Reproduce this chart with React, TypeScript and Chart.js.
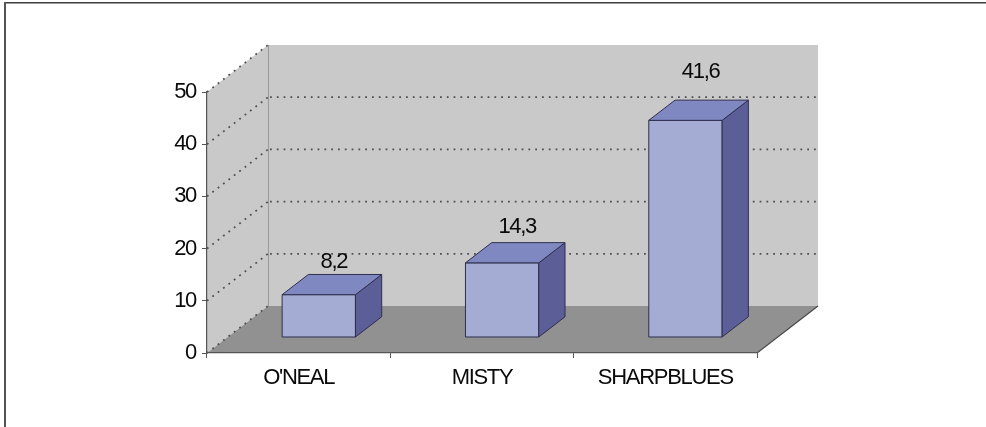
import React, { useEffect, useRef } from "react";
import { Chart, registerables } from "chart.js";

Chart.register(...registerables);

// Chart data
const categories: string[] = ["O'NEAL", "MISTY", "SHARPBLUES"];
const values: number[] = [8.2, 14.3, 41.6];
const yTicks: number[] = [0, 10, 20, 30, 40, 50];

const FONT = "'Liberation Sans', Arial, sans-serif";
const FONT_SIZE = 22;
const LETTER_SPACING = "-1.3px";

// Depth of the 3D box (pixel offset from the front plane to the back wall)
const DEPTH_X = 61;
const DEPTH_Y = -47;
// Bars sit between these depth fractions
const BAR_FRONT = 0.33;
const BAR_BACK = 0.76;

const WALL = "#c9c9c9";
const FLOOR = "#919191";
const GRID = "#505050";
const AXIS = "#555555";
const TEXT = "#0a0a0a";
const BAR_FRONT_COLOR = "#a4acd4";
const BAR_TOP_COLOR = "#8088c2";
const BAR_SIDE_COLOR = "#5c5f97";
const BAR_EDGE = "#2e2f4e";

const fmt = (v: number) => v.toFixed(1).replace(".", ",");

const threeD = {
  id: "threeD",
  beforeDraw(chart: any) {
    const { ctx, chartArea } = chart;
    const ys = chart.scales.y;
    const { left, right, bottom } = chartArea;
    const top = ys.getPixelForValue(yTicks[yTicks.length - 1]);

    // tight text spacing for all labels drawn afterwards
    (ctx as any).letterSpacing = LETTER_SPACING;

    ctx.save();
    // frame around the picture
    ctx.fillStyle = "#3c3c3c";
    ctx.fillRect(4, 2, chart.width - 4, 1.5);
    ctx.fillStyle = "#555555";
    ctx.fillRect(4, 2, 2, chart.height - 2);

    // side wall
    ctx.fillStyle = WALL;
    ctx.beginPath();
    ctx.moveTo(left, bottom);
    ctx.lineTo(left, top);
    ctx.lineTo(left + DEPTH_X, top + DEPTH_Y);
    ctx.lineTo(left + DEPTH_X, bottom + DEPTH_Y);
    ctx.closePath();
    ctx.fill();

    // back wall
    ctx.fillRect(left + DEPTH_X, top + DEPTH_Y, right - left, bottom - top);
    ctx.strokeStyle = "#9a9a9a";
    ctx.lineWidth = 1;
    ctx.beginPath();
    ctx.moveTo(left + DEPTH_X + 0.5, top + DEPTH_Y);
    ctx.lineTo(left + DEPTH_X + 0.5, bottom + DEPTH_Y);
    ctx.stroke();

    // floor
    ctx.fillStyle = FLOOR;
    ctx.beginPath();
    ctx.moveTo(left, bottom);
    ctx.lineTo(right, bottom);
    ctx.lineTo(right + DEPTH_X, bottom + DEPTH_Y);
    ctx.lineTo(left + DEPTH_X, bottom + DEPTH_Y);
    ctx.closePath();
    ctx.fill();
    ctx.strokeStyle = "#4a4a4a";
    ctx.lineWidth = 1.2;
    ctx.beginPath();
    ctx.moveTo(right, bottom);
    ctx.lineTo(right + DEPTH_X, bottom + DEPTH_Y);
    ctx.stroke();

    // dotted gridlines: side wall diagonals and back wall horizontals
    ctx.strokeStyle = GRID;
    ctx.lineWidth = 1.8;
    ctx.setLineDash([1.8, 5]);
    yTicks.forEach((v) => {
      const py = ys.getPixelForValue(v);
      ctx.beginPath();
      ctx.moveTo(left, py);
      ctx.lineTo(left + DEPTH_X, py + DEPTH_Y);
      ctx.stroke();
      if (v > yTicks[0] && v < yTicks[yTicks.length - 1]) {
        ctx.beginPath();
        ctx.moveTo(left + DEPTH_X + 2, py + DEPTH_Y);
        ctx.lineTo(right + DEPTH_X, py + DEPTH_Y);
        ctx.stroke();
      }
    });
    ctx.setLineDash([]);
    ctx.restore();
  },
  afterDatasetsDraw(chart: any) {
    const { ctx } = chart;
    const meta = chart.getDatasetMeta(0);
    const fx = DEPTH_X * BAR_FRONT;
    const fy = DEPTH_Y * BAR_FRONT;
    const dx = DEPTH_X * (BAR_BACK - BAR_FRONT);
    const dy = DEPTH_Y * (BAR_BACK - BAR_FRONT);

    ctx.save();
    ctx.lineWidth = 1;
    ctx.strokeStyle = BAR_EDGE;
    ctx.lineJoin = "round";
    meta.data.forEach((el: any, i: number) => {
      const { x, y, base, width } = el.getProps(["x", "y", "base", "width"], true);
      const x0 = x - width / 2 + fx;
      const x1 = x + width / 2 + fx;
      const yt = y + fy;
      const yb = base + fy;

      // front face
      ctx.fillStyle = BAR_FRONT_COLOR;
      ctx.beginPath();
      ctx.rect(x0, yt, x1 - x0, yb - yt);
      ctx.fill();
      ctx.stroke();

      // side face
      ctx.fillStyle = BAR_SIDE_COLOR;
      ctx.beginPath();
      ctx.moveTo(x1, yt);
      ctx.lineTo(x1 + dx, yt + dy);
      ctx.lineTo(x1 + dx, yb + dy);
      ctx.lineTo(x1, yb);
      ctx.closePath();
      ctx.fill();
      ctx.stroke();

      // top face
      ctx.fillStyle = BAR_TOP_COLOR;
      ctx.beginPath();
      ctx.moveTo(x0, yt);
      ctx.lineTo(x0 + dx, yt + dy);
      ctx.lineTo(x1 + dx, yt + dy);
      ctx.lineTo(x1, yt);
      ctx.closePath();
      ctx.fill();
      ctx.stroke();

      // value label above the bar top, lifted a little more for taller bars
      const cx = (x0 + x1) / 2 + dx / 2 + 2;
      const cy = yt + dy / 2;
      const lift = 19 + 0.09 * (base - y);
      ctx.fillStyle = TEXT;
      ctx.font = `${FONT_SIZE}px ${FONT}`;
      (ctx as any).letterSpacing = LETTER_SPACING;
      ctx.textAlign = "center";
      ctx.textBaseline = "middle";
      ctx.fillText(fmt(values[i]), cx, cy - lift);
    });
    ctx.restore();
  },
};

export default function App() {
  const canvasRef = useRef<HTMLCanvasElement | null>(null);

  useEffect(() => {
    if (!canvasRef.current) return;
    const chart = new Chart(canvasRef.current, {
      type: "bar",
      data: {
        labels: categories,
        datasets: [
          {
            data: values,
            backgroundColor: "rgba(0,0,0,0)",
            borderWidth: 0,
            barPercentage: 0.4,
            categoryPercentage: 1,
          },
        ],
      },
      options: {
        responsive: false,
        animation: false,
        devicePixelRatio: 1,
        layout: { padding: { left: 0, top: 92, right: 229, bottom: 0 } },
        plugins: {
          legend: { display: false },
          tooltip: { enabled: false },
          title: { display: false },
        },
        scales: {
          x: {
            offset: true,
            grid: {
              offset: true,
              drawOnChartArea: false,
              drawTicks: true,
              tickLength: 5,
              color: AXIS,
            },
            border: { display: true, color: AXIS, width: 1.2 },
            ticks: {
              color: TEXT,
              font: { family: FONT, size: FONT_SIZE },
              padding: 7,
              maxRotation: 0,
            },
            afterFit: (scale: any) => {
              scale.height = 74;
            },
          },
          y: {
            min: 0,
            max: 50,
            grid: {
              drawOnChartArea: false,
              drawTicks: true,
              tickLength: 5,
              color: AXIS,
            },
            border: { display: true, color: AXIS, width: 1.2 },
            ticks: {
              stepSize: 10,
              color: TEXT,
              font: { family: FONT, size: FONT_SIZE },
              padding: 6,
            },
            afterFit: (scale: any) => {
              scale.width = 207;
            },
          },
        },
      },
      plugins: [threeD],
    });
    return () => chart.destroy();
  }, []);

  return (
    <div style={{ position: "absolute", left: 0, top: 0, width: 986, height: 427, background: "#ffffff" }}>
      <canvas ref={canvasRef} width={986} height={427} style={{ display: "block" }} />
    </div>
  );
}
